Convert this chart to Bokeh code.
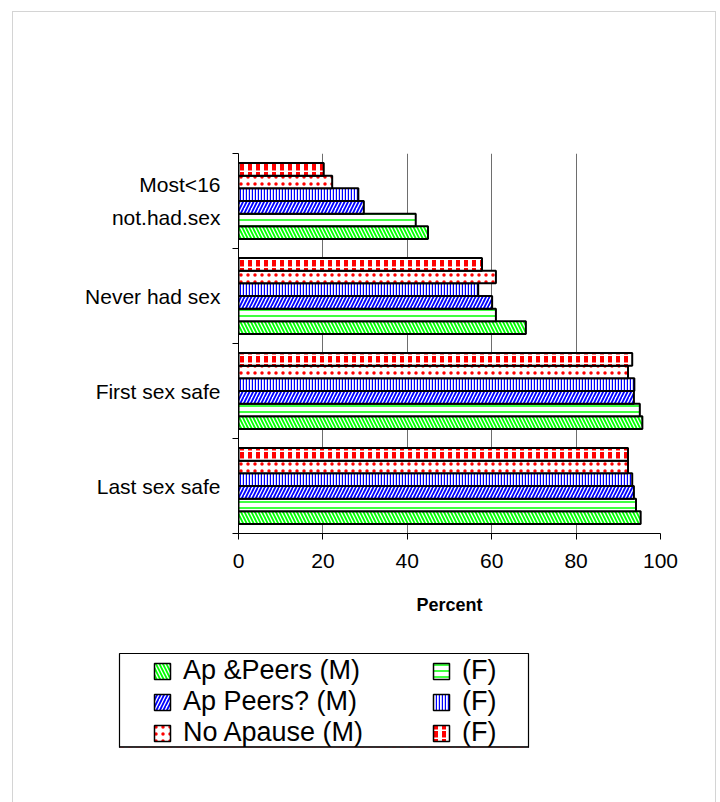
from bokeh.plotting import figure
from bokeh.layouts import column
from bokeh.models import FixedTicker, Legend, LegendItem, ColumnDataSource
from bokeh.embed import file_html
from bokeh.resources import INLINE

# ---------------- data (bottom to top) ----------------
categories = ["Last sex safe", "First sex safe", "Never had sex", "Most<16\nnot.had.sex"]
ap_peers_m = [95.3, 95.7, 68.1, 44.9]
ap_peers_f = [94.2, 95.1, 61.0, 42.0]
ap_peers_q_m = [93.7, 93.7, 60.1, 29.7]
ap_peers_q_f = [93.3, 93.8, 56.8, 28.4]
no_apause_m = [92.3, 92.3, 61.0, 22.2]
no_apause_f = [92.3, 93.3, 57.7, 20.2]
series_labels = ["Ap &Peers (M)", "(F)", "Ap Peers? (M)", "(F)", "No Apause (M)", "(F)"]
x_ticks = [0, 20, 40, 60, 80, 100]
x_title = "Percent"

styles = [
    dict(hatch_pattern="\\", hatch_color="#00ff00", hatch_scale=7, hatch_weight=1.8),
    dict(hatch_pattern="-", hatch_color="#00ff00", hatch_scale=6, hatch_weight=1.5),
    dict(hatch_pattern="/", hatch_color="#0000ff", hatch_scale=7, hatch_weight=1.8),
    dict(hatch_pattern="|", hatch_color="#0000ff", hatch_scale=3, hatch_weight=1.4),
    dict(hatch_pattern=".", hatch_color="#ff0000", hatch_scale=7, hatch_weight=1),
    dict(hatch_pattern=":", hatch_color="#ff0000", hatch_scale=8, hatch_weight=4),
]

FONT = "Liberation Sans"

p = figure(width=702, height=628, x_range=(0, 100), y_range=(0, len(categories)),
           output_backend="svg", toolbar_location=None,
           min_border_left=225, min_border_right=55, min_border_top=141, min_border_bottom=107)
p.frame_align = False
p.outline_line_color = None

all_series = [ap_peers_m, ap_peers_f, ap_peers_q_m, ap_peers_q_f, no_apause_m, no_apause_f]
n = len(all_series)
group = 0.8
bh = group / n
for k, vals in enumerate(all_series):
    ys = [i + 0.5 - group / 2 + bh * (k + 0.5) for i in range(len(categories))]
    src = ColumnDataSource(dict(y=ys, right=vals))
    p.hbar(y="y", right="right", left=0, height=bh, source=src,
           fill_color="white", line_color="black", line_width=2, **styles[k])

# x axis
p.xaxis.ticker = FixedTicker(ticks=x_ticks)
p.xaxis.axis_line_color = "black"
p.xaxis.major_tick_line_color = "black"
p.xaxis.major_tick_out = 6
p.xaxis.major_tick_in = 0
p.xaxis.minor_tick_line_color = None
p.xaxis.major_label_text_font = FONT
p.xaxis.major_label_text_font_size = "21px"
p.xaxis.major_label_text_color = "black"
p.xaxis.major_label_standoff = 14
p.xaxis.axis_label = x_title
p.xaxis.axis_label_text_font = FONT
p.xaxis.axis_label_text_font_size = "18px"
p.xaxis.axis_label_text_font_style = "bold"
p.xaxis.axis_label_text_color = "black"
p.xaxis.axis_label_standoff = 24

# y axis
centers = [i + 0.5 for i in range(len(categories))]
p.yaxis.ticker = FixedTicker(ticks=centers, minor_ticks=list(range(len(categories) + 1)))
p.yaxis.major_label_overrides = {c: lab for c, lab in zip(centers, categories)}
p.yaxis.major_tick_out = 0
p.yaxis.major_tick_in = 0
p.yaxis.minor_tick_out = 6
p.yaxis.minor_tick_in = 0
p.yaxis.minor_tick_line_color = "black"
p.yaxis.axis_line_color = "black"
p.yaxis.major_label_text_font = FONT
p.yaxis.major_label_text_font_size = "21px"
p.yaxis.major_label_text_color = "black"
p.yaxis.major_label_text_line_height = 1.45
p.yaxis.major_label_standoff = 12

# grids
p.xgrid.ticker = FixedTicker(ticks=x_ticks[1:])
p.xgrid.grid_line_color = "#6e6e6e"
p.xgrid.grid_line_width = 1
p.ygrid.grid_line_color = None

# ---------------- legend panel ----------------
lg = figure(width=702, height=162, x_range=(0, 1), y_range=(0, 1),
            output_backend="svg", toolbar_location=None,
            x_axis_location=None, y_axis_location=None,
            min_border_left=106, min_border_right=187, min_border_top=13, min_border_bottom=55)
lg.frame_align = False
lg.grid.visible = False
lg.outline_line_color = "black"
lg.outline_line_width = 1.2
# legend keys: one-row copies of each series, kept outside the visible y-range
proxies = []
for k, vals in enumerate(all_series):
    src = ColumnDataSource(dict(y=[-10.0], right=vals[:1]))
    proxies.append(lg.hbar(y="y", right="right", left=0, height=0.1, source=src,
                           fill_color="white", line_color="black", line_width=1.5, **styles[k]))
order = [0, 2, 4, 1, 3, 5]
items = [LegendItem(label=series_labels[k], renderers=[proxies[k]]) for k in order]
legend = Legend(items=items, ncols=2, nrows=3, location=(33, -1),
                padding=0, margin=0, spacing=0, border_line_color=None,
                background_fill_alpha=0, glyph_width=20, glyph_height=20,
                label_standoff=11, label_width=248, label_height=28,
                label_text_font=FONT, label_text_font_size="27px", label_text_color="black")
lg.add_layout(legend, "center")

page = column(p, lg, spacing=0, margin=(11, 0, 0, 12),
              styles={"border-left": "1px solid #d4d4d4",
                      "border-top": "1px solid #d4d4d4",
                      "border-right": "1px solid #d4d4d4"})

open("out.html", "w").write(file_html(page, INLINE))
